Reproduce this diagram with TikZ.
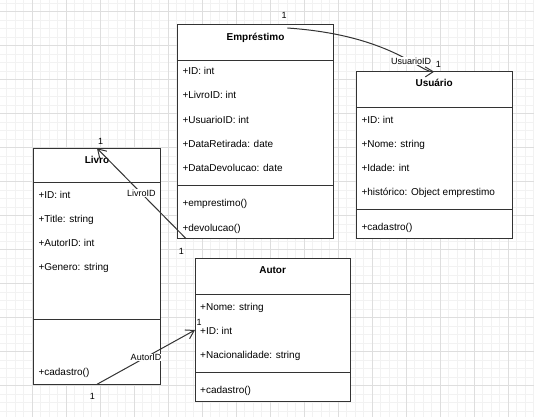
\documentclass[tikz,border=0pt]{standalone}
\usepackage{fontspec}
\setmainfont{Liberation Sans}
\usetikzlibrary{positioning,arrows.meta}

\begin{document}
\begin{tikzpicture}[
        x=1pt, y=-1pt,
        font=\fontsize{10}{12}\selectfont,
        part/.style={rectangle, draw=black!80, line width=1pt, fill=white, inner sep=0pt, outer sep=0pt},
        title/.style={inner sep=0pt, text height=7pt, text depth=2pt, font=\fontsize{10}{12}\selectfont\bfseries},
        row/.style={inner sep=0pt, text height=7pt, text depth=2pt},
        mult/.style={inner sep=0pt, text height=6.5pt, text depth=2pt, font=\fontsize{9}{11}\selectfont},
        conlabel/.style={fill=white, inner sep=0.5pt, font=\fontsize{9}{11}\selectfont},
        assoc/.style={draw=black!80, line width=1pt, -{Straight Barb[length=8pt, width=10pt]}},
        gridminor/.style={draw=black!5, line width=0.8pt},
        gridmajor/.style={draw=black!13, line width=0.8pt}
    ]
    % Background grid
    \useasboundingbox (0,0) rectangle (534,417);
    \fill[white] (0,0) rectangle (534,417);
    \foreach \k in {1,...,63} \draw[gridminor] ({\k*8.5-1.7},0) -- ({\k*8.5-1.7},417);
    \foreach \k in {-1,...,47} \draw[gridminor] (0,{\k*8.5+11.7}) -- (534,{\k*8.5+11.7});
    \foreach \k in {1,...,15} \draw[gridmajor] ({\k*34-1.7},0) -- ({\k*34-1.7},417);
    \foreach \k in {0,...,11} \draw[gridmajor] (0,{\k*34+11.7}) -- (534,{\k*34+11.7});

    % Empréstimo class
    \node[part, anchor=north west, minimum width=155.6pt, minimum height=35.3pt] (emp) at (177.7,25) {};
    \node[part, minimum width=155.6pt, minimum height=124.7pt, below=0pt of emp] (emp_attr) {};
    \node[part, minimum width=155.6pt, minimum height=53.3pt, below=0pt of emp_attr] (emp_meth) {};
    \node[title, below=8.3pt of emp.north] (emp_name) {Empréstimo};
    \node[row, below right=7.3pt and 4.6pt of emp_attr.north west] (emp_id) {+ID: int};
    \node[row, below=14.8pt of emp_id.south west, anchor=north west] (emp_livro) {+LivroID: int};
    \node[row, below=14.8pt of emp_livro.south west, anchor=north west] (emp_usuario) {+UsuarioID: int};
    \node[row, below=14.8pt of emp_usuario.south west, anchor=north west] (emp_retirada) {+DataRetirada: date};
    \node[row, below=14.8pt of emp_retirada.south west, anchor=north west] (emp_devolucao) {+DataDevolucao: date};
    \node[row, below right=14.3pt and 4.6pt of emp_meth.north west] (emp_emprestimo) {+emprestimo()};
    \node[row, below=15.3pt of emp_emprestimo.south west, anchor=north west] (emp_devolve) {+devolucao()};

    % Usuário class
    \node[part, anchor=north west, minimum width=155.7pt, minimum height=36pt] (usu) at (356.3,71.7) {};
    \node[part, minimum width=155.7pt, minimum height=101.3pt, below=0pt of usu] (usu_attr) {};
    \node[part, minimum width=155.7pt, minimum height=29.3pt, below=0pt of usu_attr] (usu_meth) {};
    \node[title, below=7.9pt of usu.north] (usu_name) {Usuário};
    \node[row, below right=8.9pt and 5pt of usu_attr.north west] (usu_id) {+ID: int};
    \node[row, below=14.6pt of usu_id.south west, anchor=north west] (usu_nome) {+Nome: string};
    \node[row, below=14.6pt of usu_nome.south west, anchor=north west] (usu_idade) {+Idade: int};
    \node[row, below=14.6pt of usu_idade.south west, anchor=north west] (usu_hist) {+histórico: Object emprestimo};
    \node[row, below right=14.3pt and 5pt of usu_meth.north west] (usu_cadastro) {+cadastro()};

    % Livro class
    \node[part, anchor=north west, minimum width=127.4pt, minimum height=34.4pt] (livro) at (33.3,148.3) {};
    \node[part, minimum width=127.4pt, minimum height=136.6pt, below=0pt of livro] (livro_attr) {};
    \node[part, minimum width=127.4pt, minimum height=65pt, below=0pt of livro_attr] (livro_meth) {};
    \node[title, below=8.3pt of livro.north] (livro_name) {Livro};
    \node[row, below right=8.2pt and 5pt of livro_attr.north west] (livro_id) {+ID: int};
    \node[row, below=14.8pt of livro_id.south west, anchor=north west] (livro_title) {+Title: string};
    \node[row, below=14.8pt of livro_title.south west, anchor=north west] (livro_autor) {+AutorID: int};
    \node[row, below=14.8pt of livro_autor.south west, anchor=north west] (livro_genero) {+Genero: string};
    \node[row, below right=49pt and 5pt of livro_meth.north west] (livro_cadastro) {+cadastro()};

    % Autor class
    \node[part, anchor=north west, minimum width=155.3pt, minimum height=36pt] (autor) at (195,258.3) {};
    \node[part, minimum width=155.3pt, minimum height=78pt, below=0pt of autor] (autor_attr) {};
    \node[part, minimum width=155.3pt, minimum height=29.4pt, below=0pt of autor_attr] (autor_meth) {};
    \node[title, below=7.6pt of autor.north] (autor_name) {Autor};
    \node[row, below right=9pt and 5pt of autor_attr.north west] (autor_nome) {+Nome: string};
    \node[row, below=14.5pt of autor_nome.south west, anchor=north west] (autor_id) {+ID: int};
    \node[row, below=14.5pt of autor_id.south west, anchor=north west] (autor_nac) {+Nacionalidade: string};
    \node[row, below right=13.6pt and 5pt of autor_meth.north west] (autor_cadastro) {+cadastro()};

    % Associations
    \coordinate (emp_out) at ([xshift=31.8pt, yshift=-3pt]emp.north);
    \coordinate (emp_low) at ([xshift=8pt]emp_meth.south west);
    \coordinate (autor_in) at ([yshift=3.3pt]autor_attr.west);

    \draw[assoc] (emp_out) .. controls +(102.7,7) and +(-14.2,0.3) .. (usu.north) node[conlabel, pos=0.65] (lbl_usuario) {UsuarioID};
    \draw[assoc] (emp_low) -- (livro.north) node[conlabel, pos=0.5] (lbl_livro) {LivroID};
    \draw[assoc] (livro_meth.south) -- (autor_in) node[conlabel, pos=0.5] (lbl_autor) {AutorID};

    % Multiplicities
    \node[mult] (m_emp_usu) at ([xshift=-3.3pt, yshift=12.2pt]emp_out) {1};
    \node[mult] (m_usu) at ([xshift=4.1pt, yshift=6.6pt]usu.north) {1};
    \node[mult] (m_emp_livro) at ([xshift=-4.4pt, yshift=-13.5pt]emp_low) {1};
    \node[mult] (m_livro) at ([xshift=3.7pt, yshift=6.5pt]livro.north) {1};
    \node[mult] (m_livro_autor) at ([xshift=-4.6pt, yshift=-12.5pt]livro_meth.south) {1};
    \node[mult] (m_autor) at ([xshift=4pt, yshift=6.6pt]autor_in) {1};
\end{tikzpicture}
\end{document}
